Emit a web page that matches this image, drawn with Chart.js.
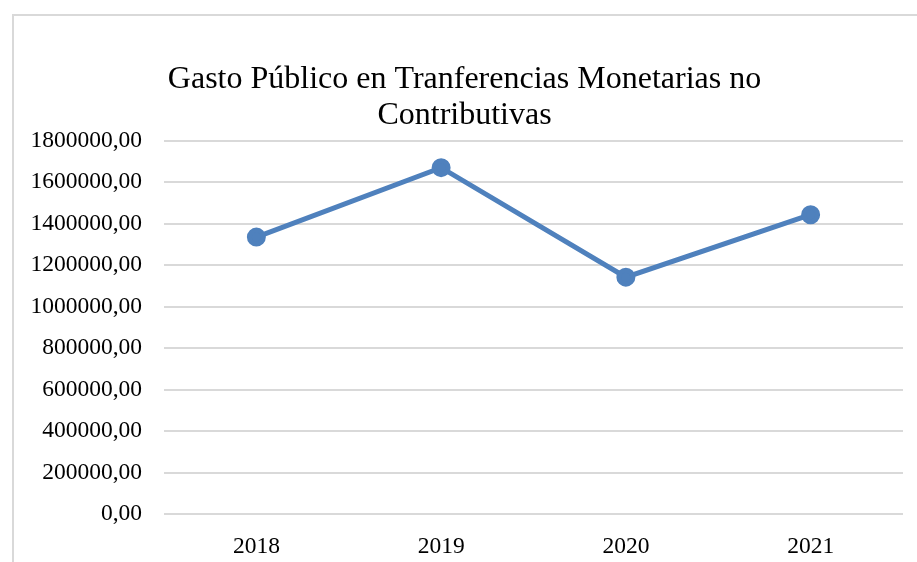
<!DOCTYPE html>
<html>
<head>
<meta charset="utf-8">
<script src="https://cdn.jsdelivr.net/npm/chart.js@4/dist/chart.umd.min.js"></script>
<style>
  html, body { margin: 0; padding: 0; background: #fff; }
  #wrap { position: relative; width: 917px; height: 562px; overflow: hidden; }
  #frame { position: absolute; left: 12px; top: 14px; width: 940px; height: 600px;
           border: 2px solid #d9d9d9; box-sizing: border-box; }
  #chart { position: absolute; left: 0; top: 0; }
</style>
</head>
<body>
<div id="wrap">
  <div id="frame"></div>
  <canvas id="chart" width="917" height="562"></canvas>
</div>
<script>
// Data
const years = ["2018", "2019", "2020", "2021"];
const gasto = [1335000, 1670000, 1142000, 1443000];
const titleLines = ["Gasto Público en Tranferencias Monetarias no", "Contributivas"];

const yMin = 0;
const yMax = 1800000;
const yStep = 200000;

const serif = "'Liberation Serif', 'Times New Roman', serif";

const ctx = document.getElementById("chart").getContext("2d");
const chart = new Chart(ctx, {
  type: "line",
  data: {
    labels: years,
    datasets: [
      {
        label: "Gasto",
        data: gasto,
        borderColor: "#4f81bd",
        backgroundColor: "#4f81bd",
        borderWidth: 5,
        pointRadius: 7,
        pointHoverRadius: 7,
        tension: 0,
      },
    ],
  },
  options: {
    responsive: false,
    animation: false,
    layout: { padding: { left: 26, right: 14, top: 62, bottom: 0 } },
    plugins: {
      legend: { display: false },
      tooltip: { enabled: false },
      title: {
        display: true,
        text: titleLines,
        color: "#000",
        font: { family: serif, size: 32, weight: "normal", lineHeight: 1.12 },
        padding: { top: 0, bottom: 7 },
      },
    },
    scales: {
      x: {
        offset: true,
        grid: { display: false },
        border: { display: false },
        ticks: { color: "#000", font: { family: serif, size: 23.5 }, padding: 11 },
        afterFit: (scale) => { scale.height = 48; },
      },
      y: {
        min: yMin,
        max: yMax,
        border: { display: false },
        grid: { color: "#d9d9d9", lineWidth: 2, drawTicks: false },
        ticks: {
          stepSize: yStep,
          color: "#000",
          font: { family: serif, size: 23.5 },
          padding: 22,
          callback: (v) => v.toFixed(2).replace(".", ","),
        },
        afterFit: (scale) => { scale.width = 138; },
      },
    },
  },
});
</script>
</body>
</html>
